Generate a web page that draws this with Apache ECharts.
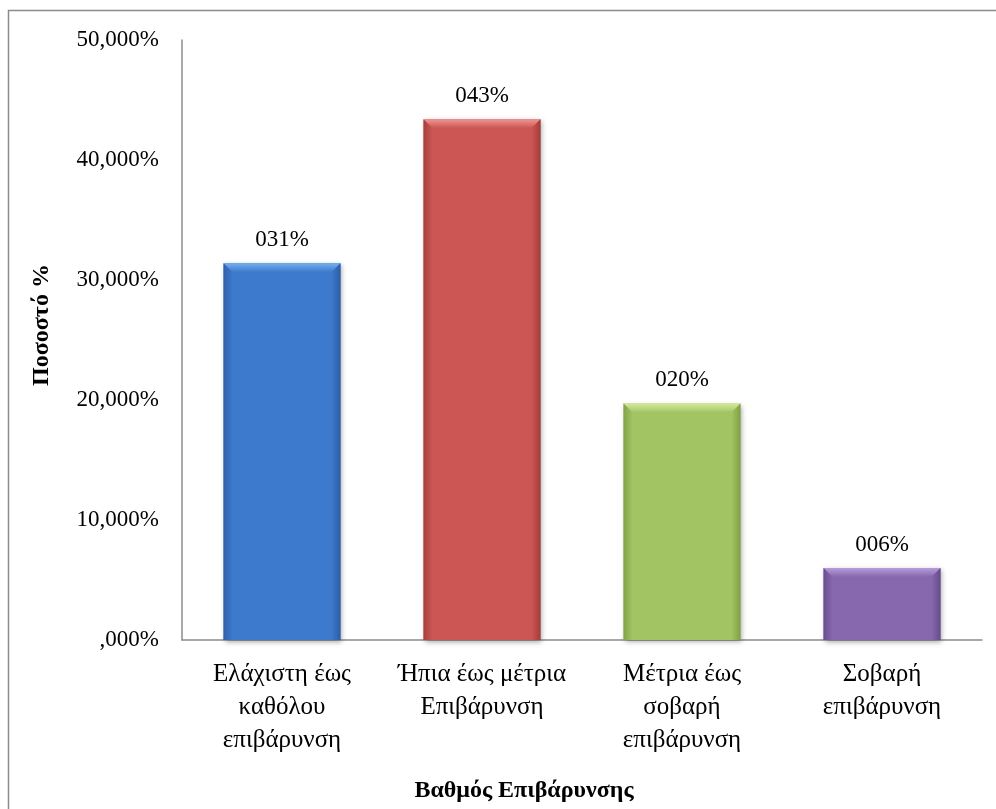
<!DOCTYPE html>
<html>
<head>
<meta charset="utf-8">
<script src="https://cdn.jsdelivr.net/npm/echarts@6/dist/echarts.min.js"></script>
<style>
  html, body { margin: 0; padding: 0; background: #fff; }
  #chart { width: 996px; height: 809px; }
</style>
</head>
<body>
<div id="chart"></div>
<script>
// Degree of burden categories and share of respondents (%)
const categories = [
  'Ελάχιστη έως\nκαθόλου\nεπιβάρυνση',
  'Ήπια έως μέτρια\nΕπιβάρυνση',
  'Μέτρια έως\nσοβαρή\nεπιβάρυνση',
  'Σοβαρή\nεπιβάρυνση'
];
const percentages = [31.4, 43.4, 19.7, 6.0];
const yTicks = { min: 0, max: 50, interval: 10 };

// Bevel colours per bar: body, light top edge, dark sides
const palette = [
  { body: '#3D79CD', light: '#74B0EE', dark: '#2A5A9F' },
  { body: '#CC5653', light: '#EC9794', dark: '#9E3A38' },
  { body: '#A2C462', light: '#D2EA9C', dark: '#7C9B43' },
  { body: '#8767AE', light: '#B69DD8', dark: '#624987' }
];

const FONT = '"Liberation Serif", "Times New Roman", serif';

function pctTick(v) {
  // e.g. 50 -> "50,000%", 0 -> ",000%"
  const s = v.toFixed(3).replace('.', ',');
  return (s.startsWith('0,') ? s.slice(1) : s) + '%';
}
function pctLabel(v) {
  return String(Math.round(v)).padStart(3, '0') + '%';
}

function renderBar(params, api) {
  const idx = api.value(0);
  const val = api.value(1);
  const top = api.coord([idx, val]);
  const base = api.coord([idx, 0]);
  const w = api.size([1, 0])[0] * 0.585;
  const x0 = top[0] - w / 2, x1 = top[0] + w / 2;
  const y0 = top[1], y1 = base[1];
  const b = Math.min(9, (y1 - y0) / 3);
  const c = palette[idx % palette.length];
  return {
    type: 'group',
    children: [
      { type: 'rect', shape: { x: x0, y: y0, width: w, height: y1 - y0 },
        style: { fill: c.body, shadowBlur: 5, shadowOffsetX: 1, shadowOffsetY: 2, shadowColor: 'rgba(0,0,0,0.35)' } },
      // top bevel
      { type: 'polygon', shape: { points: [[x0, y0], [x1, y0], [x1 - b, y0 + b], [x0 + b, y0 + b]] },
        style: { fill: { type: 'linear', x: 0, y: 0, x2: 0, y2: 1, colorStops: [
          { offset: 0, color: c.light }, { offset: 1, color: c.body }] } } },
      // left bevel
      { type: 'polygon', shape: { points: [[x0, y0], [x0 + b, y0 + b], [x0 + b, y1], [x0, y1]] },
        style: { fill: { type: 'linear', x: 0, y: 0, x2: 1, y2: 0, colorStops: [
          { offset: 0, color: c.dark }, { offset: 1, color: c.body }] }, opacity: 0.8 } },
      // right bevel
      { type: 'polygon', shape: { points: [[x1, y0], [x1 - b, y0 + b], [x1 - b, y1], [x1, y1]] },
        style: { fill: { type: 'linear', x: 0, y: 0, x2: 1, y2: 0, colorStops: [
          { offset: 0, color: c.body }, { offset: 1, color: c.dark }] }, opacity: 0.9 } },
      // value label
      { type: 'text', x: top[0], y: y0 - 12,
        style: { text: pctLabel(val), font: '23px ' + FONT, fill: '#000',
                 align: 'center', verticalAlign: 'bottom' } }
    ]
  };
}

const chart = echarts.init(document.getElementById('chart'), null, { renderer: 'canvas' });
chart.setOption({
  backgroundColor: '#fff',
  animation: false,
  grid: { left: 182, right: 14, top: 40, bottom: 169 },
  graphic: [
    { type: 'rect', shape: { x: 8.5, y: 10.5, width: 1000, height: 820 },
      style: { fill: 'none', stroke: '#8c8c8c', lineWidth: 1.5 }, z: -1 },
    { type: 'text', x: 524, y: 791,
      style: { text: 'Βαθμός Επιβάρυνσης', font: 'bold 24px ' + FONT, fill: '#000',
               align: 'center', verticalAlign: 'middle' } },
    { type: 'text', x: 42, y: 325, rotation: Math.PI / 2,
      style: { text: 'Ποσοστό %', font: 'bold 24px ' + FONT, fill: '#000',
               align: 'center', verticalAlign: 'middle' } }
  ],
  xAxis: {
    type: 'category',
    data: categories,
    axisLine: { lineStyle: { color: '#8c8c8c', width: 1.5 } },
    axisTick: { show: false },
    axisLabel: { color: '#000', fontFamily: FONT, fontSize: 25, lineHeight: 33, margin: 18, interval: 0 }
  },
  yAxis: {
    type: 'value',
    min: yTicks.min, max: yTicks.max, interval: yTicks.interval,
    axisLine: { show: true, lineStyle: { color: '#8c8c8c', width: 1.5 } },
    axisTick: { show: false },
    splitLine: { show: false },
    axisLabel: { color: '#000', fontFamily: FONT, fontSize: 23, margin: 23, formatter: pctTick }
  },
  series: [{
    type: 'custom',
    renderItem: renderBar,
    data: percentages.map((v, i) => [i, v]),
    encode: { x: 0, y: 1 },
    clip: false
  }]
});
</script>
</body>
</html>
